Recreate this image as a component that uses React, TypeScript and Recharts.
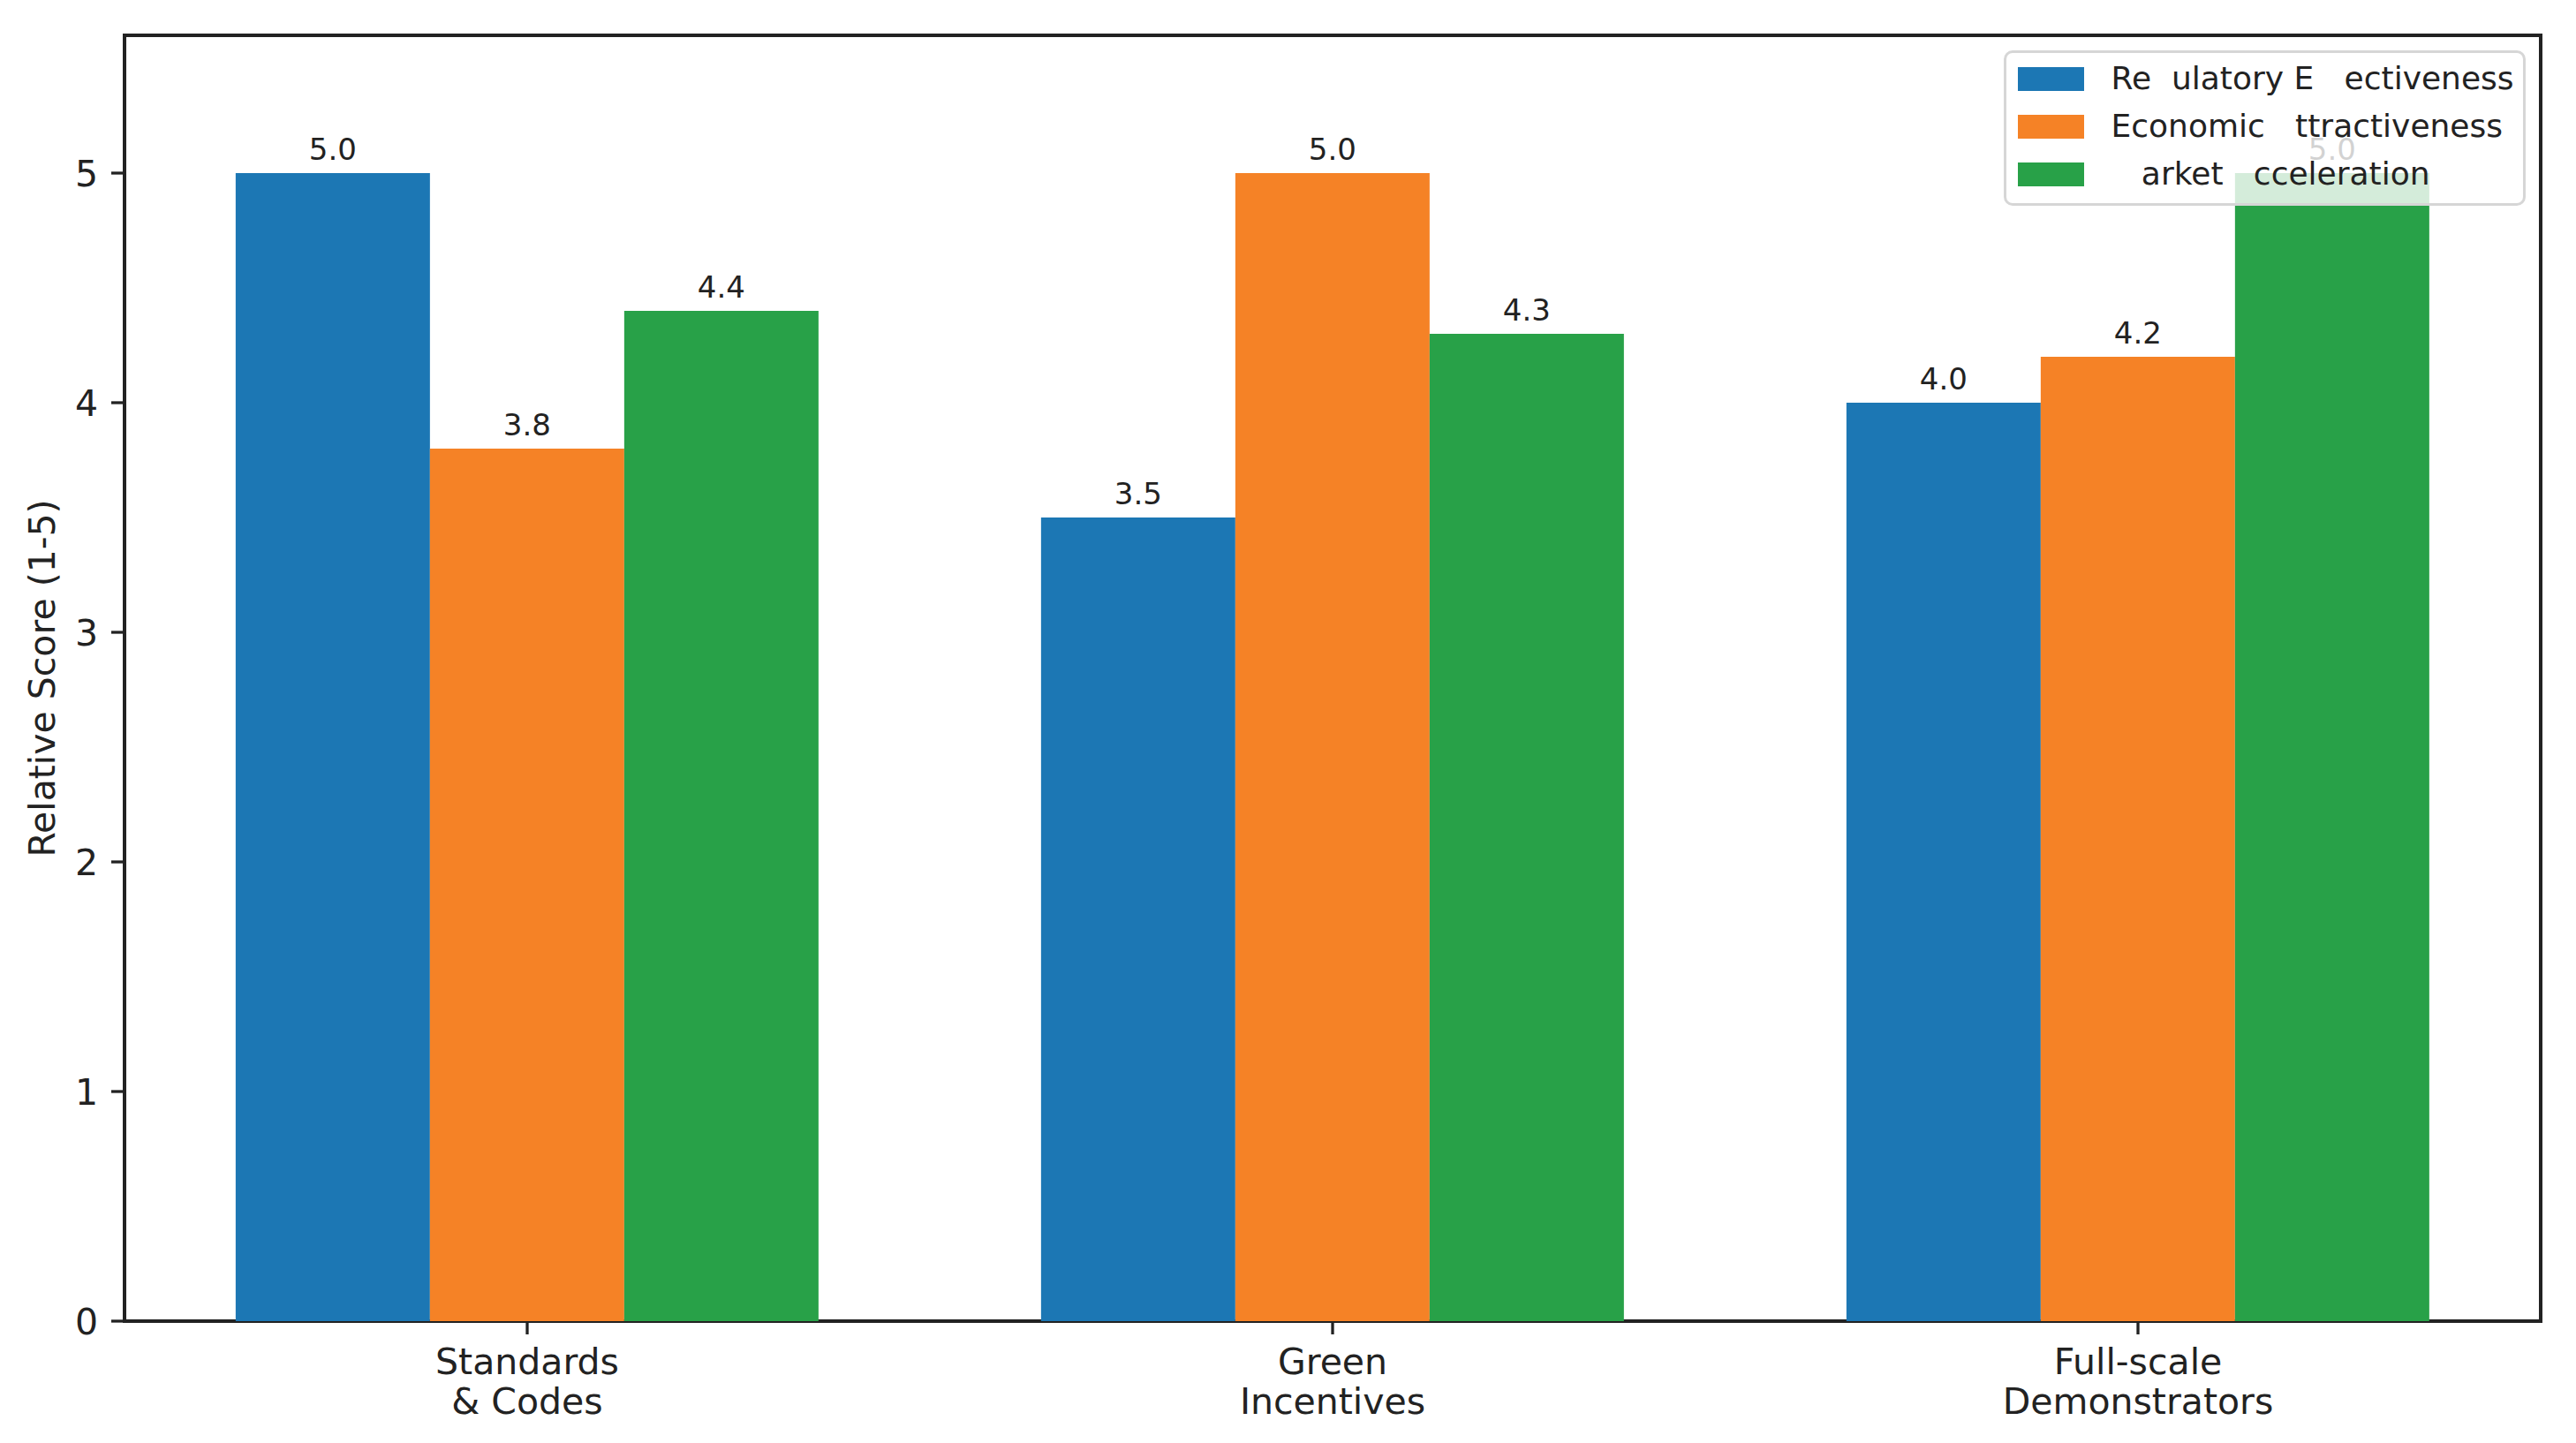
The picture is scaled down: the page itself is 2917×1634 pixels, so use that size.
import React from 'react';
import { BarChart, Bar, XAxis, YAxis, LabelList, Legend, ReferenceArea } from 'recharts';

const categories = ['Standards\n& Codes', 'Green\nIncentives', 'Full-scale\nDemonstrators'];
const seriesNames = [
  'Re\u00a0\u00a0ulatory E\u00a0\u00a0\u00a0ectiveness',
  'Economic\u00a0\u00a0\u00a0ttractiveness',
  '\u00a0\u00a0\u00a0arket\u00a0\u00a0\u00a0cceleration',
];
const regulatory = [5.0, 3.5, 4.0];
const economic = [3.8, 5.0, 4.2];
const market = [4.4, 4.3, 5.0];
const yTicks = [0, 1, 2, 3, 4, 5];
const yDomain = [0, 5.6];
const yLabel = 'Relative Score (1-5)';
const colors = ['#1c77b4', '#f58226', '#28a148'];

const data = categories.map((c, i) => ({
  name: c,
  s0: regulatory[i],
  s1: economic[i],
  s2: market[i],
}));

const FONT = '"DejaVu Sans", sans-serif';
const TEXT = '#222222';

const XTick = (props: any) => {
  const { x, y, payload } = props;
  const lines = String(payload.value).split('\n');
  return (
    <g>
      {lines.map((l, i) => (
        <text
          key={i}
          x={x}
          y={y + 30 + i * 45}
          textAnchor="middle"
          fontFamily={FONT}
          fontSize={41}
          fill={TEXT}
        >
          {l}
        </text>
      ))}
    </g>
  );
};

const YLabel = (props: any) => {
  const vb = props.viewBox || { x: 0, y: 40, width: 141, height: 1456 };
  const cy = vb.y + vb.height / 2;
  const x = 62;
  return (
    <text
      x={x}
      y={cy}
      transform={`rotate(-90, ${x}, ${cy})`}
      textAnchor="middle"
      fontFamily={FONT}
      fontSize={41}
      fill={TEXT}
    >
      {yLabel}
    </text>
  );
};

const LegendBox = () => {
  return (
    <div
      style={{
        boxSizing: 'border-box',
        width: 591,
        height: 176,
        border: '3.5px solid #d6d6d6',
        borderRadius: 10,
        background: 'rgba(255,255,255,0.8)',
        paddingTop: 2,
        fontFamily: FONT,
      }}
    >
      {seriesNames.map((n, i) => (
        <div key={i} style={{ display: 'flex', alignItems: 'center', height: 54 }}>
          <div style={{ width: 75, height: 27, marginLeft: 12.5, marginRight: 31, background: colors[i], flexShrink: 0 }} />
          <span style={{ whiteSpace: 'pre', fontSize: 36, lineHeight: '54px', color: TEXT }}>{n}</span>
        </div>
      ))}
    </div>
  );
};

export default function App() {
  return (
    <div style={{ position: 'absolute', left: 0, top: 0, width: 2917, height: 1634, background: '#fff' }}>
      <BarChart
        width={2917}
        height={1634}
        data={data}
        margin={{ top: 40, right: 40, bottom: 0, left: 0 }}
        barCategoryGap="13.8%"
        barGap={0}
      >
        <XAxis
          dataKey="name"
          height={138}
          axisLine={false}
          tickLine={{ stroke: TEXT, strokeWidth: 3.3 }}
          tickSize={15}
          tickMargin={15}
          tick={<XTick />}
          interval={0}
        />
        <YAxis
          width={141}
          domain={yDomain}
          ticks={yTicks}
          allowDataOverflow
          axisLine={false}
          tickLine={{ stroke: TEXT, strokeWidth: 3.3 }}
          tickSize={15}
          tickMargin={15}
          tick={{ fontFamily: FONT, fontSize: 41, fill: TEXT }}
          label={<YLabel />}
        />
        <Bar dataKey="s0" name={seriesNames[0]} fill={colors[0]} isAnimationActive={false}>
          <LabelList dataKey="s0" position="top" offset={15} fontFamily={FONT} fontSize={34} fill={TEXT} formatter={(v: any) => Number(v).toFixed(1)} />
        </Bar>
        <Bar dataKey="s1" name={seriesNames[1]} fill={colors[1]} isAnimationActive={false}>
          <LabelList dataKey="s1" position="top" offset={15} fontFamily={FONT} fontSize={34} fill={TEXT} formatter={(v: any) => Number(v).toFixed(1)} />
        </Bar>
        <Bar dataKey="s2" name={seriesNames[2]} fill={colors[2]} isAnimationActive={false}>
          <LabelList dataKey="s2" position="top" offset={15} fontFamily={FONT} fontSize={34} fill={TEXT} formatter={(v: any) => Number(v).toFixed(1)} />
        </Bar>
        <ReferenceArea y1={0} y2={5.6} fill="none" stroke={TEXT} strokeWidth={4} ifOverflow="visible" />
        <Legend
          layout="vertical"
          align="center"
          verticalAlign="middle"
          content={<LegendBox />}
          wrapperStyle={{ position: 'absolute', left: 2269, top: 57, width: 591, height: 176 }}
        />
      </BarChart>
    </div>
  );
}
